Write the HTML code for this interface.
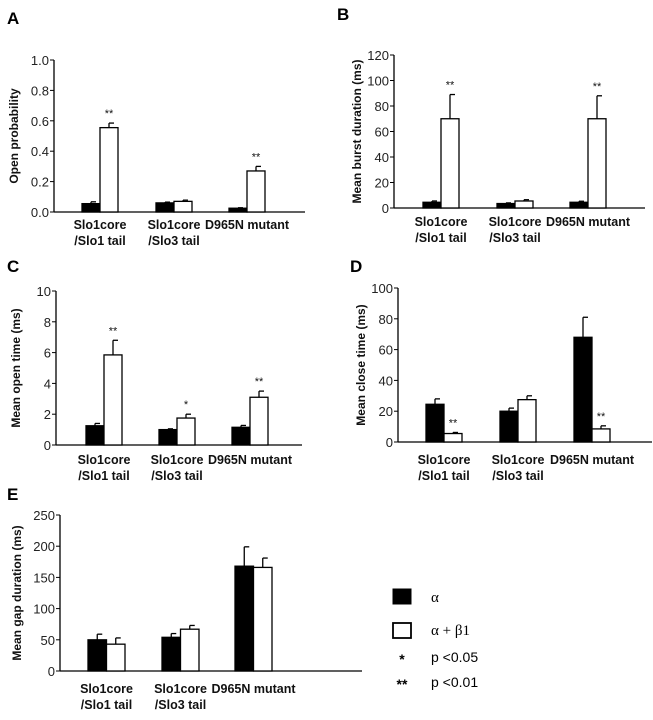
<!DOCTYPE html>
<html><head><meta charset="utf-8">
<style>
html,body{margin:0;padding:0;background:#fff;}
svg{display:block;font-family:"Liberation Sans",Arial,sans-serif;}
.tick{font-size:13px;fill:#222;}
.cat{font-size:12.5px;font-weight:bold;fill:#111;}
.yt{font-size:12px;font-weight:bold;fill:#111;}
.pl{font-size:17px;font-weight:bold;fill:#000;}
.st{font-size:11px;fill:#111;}
</style></head>
<body>
<svg id="fig" width="653" height="720" viewBox="0 0 653 720"></svg>
<script>
// Panel A: open probability
const aBlack=[0.055,0.06,0.025]; const aBlackErr=[0.012,0.005,0.003];
const aWhite=[0.555,0.07,0.27]; const aWhiteErr=[0.03,0.008,0.03];
const aStars=["**","","**"]; const aTicks=["0.0","0.2","0.4","0.6","0.8","1.0"];
// Panel B: burst duration
const bBlack=[4.5,3.5,4.5]; const bBlackErr=[1,0.5,0.8];
const bWhite=[70,5.5,70]; const bWhiteErr=[19,1,18];
const bStars=["**","","**"]; const bTicks=["0","20","40","60","80","100","120"];
// Panel C: open time
const cBlack=[1.25,1.0,1.15]; const cBlackErr=[0.15,0.05,0.12];
const cWhite=[5.85,1.75,3.1]; const cWhiteErr=[0.95,0.25,0.4];
const cStars=["**","*","**"]; const cTicks=["0","2","4","6","8","10"];
// Panel D: close time
const dBlack=[24.5,20,68]; const dBlackErr=[3.5,2,13];
const dWhite=[5.5,27.5,8.5]; const dWhiteErr=[0.7,2.5,2];
const dStars=["**","","**"]; const dTicks=["0","20","40","60","80","100"];
// Panel E: gap duration
const eBlack=[50,54,168]; const eBlackErr=[9,6,31];
const eWhite=[43,67,166]; const eWhiteErr=[10,6,15];
const eStars=["","",""]; const eTicks=["0","50","100","150","200","250"];
const categories=[["Slo1core","/Slo1 tail"],["Slo1core","/Slo3 tail"],["D965N mutant",""]];

const NS="http://www.w3.org/2000/svg";
const svg=document.getElementById('fig');
function mk(tag,attrs,parent,text){const e=document.createElementNS(NS,tag);for(const k in attrs)e.setAttribute(k,attrs[k]);if(text!==undefined)e.textContent=text;(parent||svg).appendChild(e);return e;}

function panel(p){
  const g=mk('g',{});
  
  
  const max=parseFloat(p.ticks[p.ticks.length-1]);
  const ys=v=>p.y0-(v/max)*(p.y0-p.yTop);
  const lt=mk('text',{x:p.letter[0],y:p.letter[1],class:'pl'},g,p.id);
  
  
  mk('line',{x1:p.ax,y1:p.yTop,x2:p.ax,y2:p.y0,stroke:'#000','stroke-width':1.3},g);
  mk('line',{x1:p.ax,y1:p.y0,x2:p.axEnd,y2:p.y0,stroke:'#000','stroke-width':1.3},g);
  p.ticks.forEach(t=>{
    const y=ys(parseFloat(t));
    mk('line',{x1:p.ax-4,y1:y,x2:p.ax,y2:y,stroke:'#000','stroke-width':1},g);
    const tl=mk('text',{x:p.ax-5,y:y+5,class:'tick','text-anchor':'end'},g,t);
    
    
  });
  const yt=mk('text',{x:p.titleX,y:(p.y0+p.yTop)/2,class:'yt','text-anchor':'middle',transform:`rotate(-90 ${p.titleX} ${(p.y0+p.yTop)/2})`},g,p.title);
  
  
  for(let i=0;i<3;i++){
    const x0=p.g[i], w=p.w;
    [[p.black,p.blackErr,'#000',x0],[p.white,p.whiteErr,'#fff',x0+w]].forEach((s,j)=>{
      const v=s[0][i], e=s[1][i], y=ys(v), ye=ys(v+e), cx=s[3]+w/2;
      mk('line',{x1:cx,y1:y,x2:cx,y2:ye,stroke:'#000','stroke-width':1.3},g);
      mk('line',{x1:cx,y1:ye,x2:cx+5,y2:ye,stroke:'#000','stroke-width':1.3},g);
      const r=mk('rect',{x:s[3],y:y,width:w,height:Math.max(p.y0-y,0.5),fill:s[2],stroke:'#000','stroke-width':1.3},g);
      
      
      if(j===1&&p.stars[i]){
        const st=mk('text',{x:cx,y:ye-6,class:'st','text-anchor':'middle'},g,p.stars[i]);
        
        
      }
    });
    const lc=x0+w;
    categories[i].forEach((l,k)=>{ if(!l)return;
      const ct=mk('text',{x:lc,y:p.labY+k*16,class:'cat','text-anchor':'middle'},g,l);
      
      
    });
  }
}
panel({id:'A',letter:[7,24],ax:54,axEnd:305,yTop:60,y0:212,ticks:aTicks,title:'Open probability',titleX:18,g:[82,156,229],w:18,black:aBlack,blackErr:aBlackErr,white:aWhite,whiteErr:aWhiteErr,stars:aStars,labY:229});
panel({id:'B',letter:[337,20],ax:394,axEnd:645,yTop:55,y0:208,ticks:bTicks,title:'Mean burst duration (ms)',titleX:361,g:[423,497,570],w:18,black:bBlack,blackErr:bBlackErr,white:bWhite,whiteErr:bWhiteErr,stars:bStars,labY:226});
panel({id:'C',letter:[7,272],ax:56,axEnd:302,yTop:291,y0:445,ticks:cTicks,title:'Mean open time (ms)',titleX:20,g:[86,159,232],w:18,black:cBlack,blackErr:cBlackErr,white:cWhite,whiteErr:cWhiteErr,stars:cStars,labY:464});
panel({id:'D',letter:[350,272],ax:398,axEnd:652,yTop:288,y0:442,ticks:dTicks,title:'Mean close time (ms)',titleX:365,g:[426,500,574],w:18,black:dBlack,blackErr:dBlackErr,white:dWhite,whiteErr:dWhiteErr,stars:dStars,labY:464});
panel({id:'E',letter:[7,500],ax:60,axEnd:362,yTop:515,y0:671,ticks:eTicks,title:'Mean gap duration (ms)',titleX:21,g:[88,162,235],w:18.5,black:eBlack,blackErr:eBlackErr,white:eWhite,whiteErr:eWhiteErr,stars:eStars,labY:693});

// legend
const lg=mk('g',{});


const l1=mk('rect',{x:393,y:589,width:18,height:15,fill:'#000',stroke:'#000'},lg);


mk('text',{x:431,y:602,'font-size':15,'font-family':'Liberation Serif, serif'},lg,'α');
const l2=mk('rect',{x:393,y:623,width:18,height:15,fill:'#fff',stroke:'#000','stroke-width':1.8},lg);


mk('text',{x:431,y:635,'font-size':15,'font-family':'Liberation Serif, serif'},lg,'α + β1');
mk('text',{x:402,y:664,'font-size':14,'text-anchor':'middle','font-weight':'bold'},lg,'*');
mk('text',{x:431,y:662,'font-size':14},lg,'p <0.05');
mk('text',{x:402,y:689,'font-size':14,'text-anchor':'middle','font-weight':'bold'},lg,'**');
mk('text',{x:431,y:687,'font-size':14},lg,'p <0.01');
</script>
</body></html>
